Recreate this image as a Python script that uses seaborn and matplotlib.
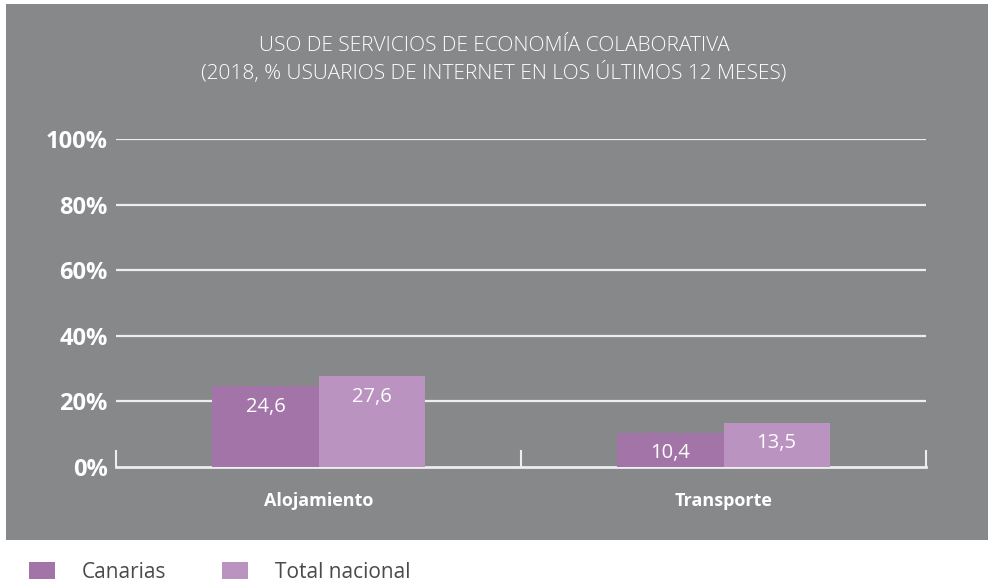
import matplotlib
matplotlib.use("Agg")
import matplotlib.pyplot as plt
from matplotlib.patches import Rectangle
import pandas as pd
import seaborn as sns

# data
categories = ["Alojamiento", "Transporte"]
series = ["Canarias", "Total nacional"]
canarias = [24.6, 10.4]
total_nacional = [27.6, 13.5]
y_ticks = [0, 20, 40, 60, 80, 100]
title_lines = ["USO DE SERVICIOS DE ECONOMÍA COLABORATIVA",
               "(2018, % USUARIOS DE INTERNET EN LOS ÚLTIMOS 12 MESES)"]

colors = {"Canarias": "#a374a8", "Total nacional": "#ba93c0"}
panel_gray = "#87888a"
grid_col = "#eeeeee"

df = pd.DataFrame({
    "categoria": categories * 2,
    "serie": [series[0]] * 2 + [series[1]] * 2,
    "valor": canarias + total_nacional,
})

sns.set_theme(style="white")
plt.rcParams["font.family"] = ["Open Sans", "DejaVu Sans"]

W, H = 988, 587
fig = plt.figure(figsize=(W / 100, H / 100), dpi=100, facecolor="white")

# gray panel behind the chart
fig.patches.append(Rectangle((6 / W, 1 - 540 / H), 1 - 6 / W, (540 - 4) / H,
                             transform=fig.transFigure, facecolor=panel_gray,
                             edgecolor="none", zorder=-10))

ax = fig.add_axes([116 / W, 1 - 467 / H, (926 - 116) / W, (467 - 139) / H])
ax.set_facecolor("none")

sns.barplot(data=df, x="categoria", y="valor", hue="serie", order=categories,
            hue_order=series, palette=colors, width=0.524, gap=0, saturation=1,
            linewidth=0, ax=ax, legend=True, zorder=3)

ax.set_xlim(-0.5, 1.5)
ax.set_ylim(0, 100)
ax.set_yticks(y_ticks)
ax.set_yticklabels([f"{t}%" for t in y_ticks], fontsize=17, fontweight="bold", color="white")
for t in y_ticks[1:]:
    ax.axhline(t, color=grid_col, lw=1.6, zorder=1)

for s in ["top", "right", "left"]:
    ax.spines[s].set_visible(False)
ax.spines["bottom"].set_color(grid_col)
ax.spines["bottom"].set_linewidth(2)

ax.tick_params(axis="y", length=0, pad=6)
ax.tick_params(axis="x", which="major", length=0, pad=18, labelsize=13,
               labelcolor="white")
for lbl in ax.get_xticklabels():
    lbl.set_fontweight("bold")
# small upward ticks at the category boundaries
ax.set_xticks([-0.5, 0.5, 1.5], minor=True)
ax.tick_params(axis="x", which="minor", bottom=True, direction="in", length=12.5,
               width=1.5, color=grid_col)
ax.set_xlabel("")
ax.set_ylabel("")

for cont in ax.containers:
    ax.bar_label(cont, labels=[f"{v:.1f}".replace(".", ",") for v in cont.datavalues],
                 padding=-22, color="white", fontsize=14.5)

# title
fig.text(0.5, 1 - 46 / H, title_lines[0], ha="center", va="center",
         color="white", fontsize=15, fontweight="light")
fig.text(0.5, 1 - 73 / H, title_lines[1], ha="center", va="center",
         color="white", fontsize=15, fontweight="light")

# legend below the panel
handles, labels = ax.get_legend_handles_labels()
ax.get_legend().remove()
fig.legend(handles, labels, loc="center left", bbox_to_anchor=(29 / W, 1 - 572 / H),
           ncol=2, frameon=False, fontsize=15, labelcolor="#4a4a4a",
           handlelength=1.25, handleheight=0.87, handletextpad=1.3, columnspacing=2.65,
           borderaxespad=0, borderpad=0)

fig.savefig("out.png", dpi=100, facecolor="white")
